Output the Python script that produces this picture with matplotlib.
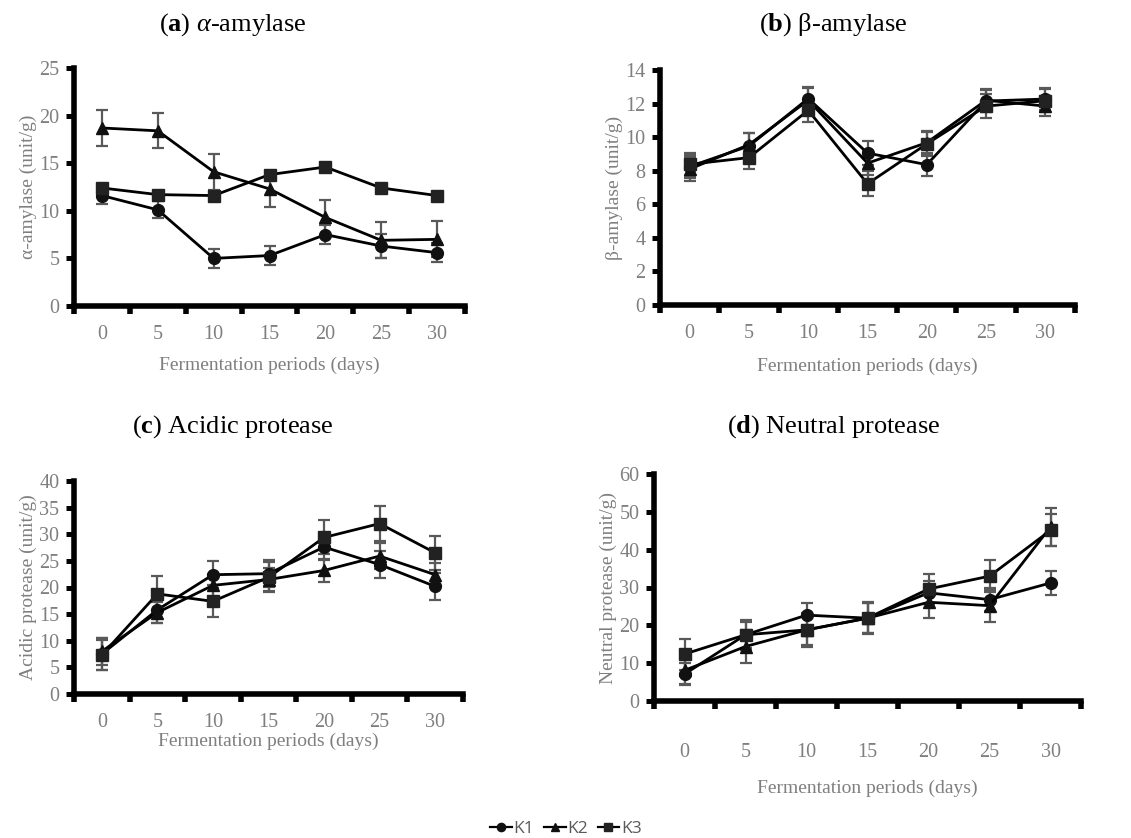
import matplotlib
matplotlib.use("Agg")
import matplotlib.pyplot as plt
import numpy as np

plt.rcParams['font.family'] = ['Liberation Serif', 'DejaVu Serif']
plt.rcParams['mathtext.fontset'] = 'custom'
plt.rcParams['mathtext.rm'] = 'Liberation Serif'
plt.rcParams['mathtext.it'] = 'Liberation Serif:italic'
plt.rcParams['mathtext.bf'] = 'Liberation Serif:bold'

days = ["0", "5", "10", "15", "20", "25", "30"]
series_names = ["K1", "K2", "K3"]

# (a) alpha-amylase
a_k1 = [11.6, 10.1, 5.0, 5.3, 7.5, 6.3, 5.6]
a_k2 = [18.7, 18.4, 14.1, 12.3, 9.3, 6.9, 7.0]
a_k3 = [12.4, 11.7, 11.6, 13.8, 14.6, 12.4, 11.6]
a_e1 = [0.9, 0.9, 1.0, 1.0, 1.0, 1.3, 1.0]
a_e2 = [1.9, 1.85, 1.9, 1.85, 1.8, 1.9, 1.9]
a_e3 = [0.3, 0.3, 0.3, 0.3, 0.3, 0.3, 0.3]

# (b) beta-amylase
b_k1 = [8.25, 9.47, 12.3, 9.05, 8.36, 12.15, 12.27]
b_k2 = [8.1, 9.55, 12.2, 8.45, 9.67, 12.2, 11.85]
b_k3 = [8.38, 8.78, 11.6, 7.22, 9.6, 11.85, 12.17]
b_e1 = [0.7, 0.75, 0.66, 0.7, 0.7, 0.65, 0.65]
b_e2 = [0.7, 0.7, 0.7, 0.7, 0.7, 0.65, 0.6]
b_e3 = [0.7, 0.7, 0.7, 0.75, 0.7, 0.7, 0.7]

# (c) acidic protease
c_k1 = [7.5, 15.8, 22.4, 22.6, 27.6, 24.3, 20.2]
c_k2 = [8.0, 15.3, 20.4, 21.5, 23.2, 25.9, 22.4]
c_k3 = [7.3, 18.8, 17.4, 21.9, 29.4, 32.0, 26.5]
c_e1 = [3.0, 2.5, 2.5, 2.5, 2.5, 2.5, 2.5]
c_e2 = [2.5, 2.0, 2.2, 2.2, 2.2, 2.5, 2.2]
c_e3 = [2.8, 3.3, 3.0, 2.8, 3.2, 3.3, 3.2]

# (d) neutral protease
d_k1 = [7.1, 17.5, 22.7, 21.9, 28.6, 26.8, 31.2]
d_k2 = [8.1, 14.4, 18.8, 21.9, 26.1, 25.2, 46.0]
d_k3 = [12.4, 17.5, 18.8, 21.9, 29.6, 33.0, 45.1]
d_e1 = [2.9, 3.5, 3.2, 4.0, 3.0, 3.1, 3.1]
d_e2 = [3.5, 4.4, 4.0, 4.0, 4.2, 4.2, 5.0]
d_e3 = [4.1, 3.9, 4.5, 4.3, 4.0, 4.3, 4.2]

W, H = 1131, 838
fig = plt.figure(figsize=(W / 100, H / 100), dpi=100)

def box(l, r, t, b):
    return [l / W, 1 - b / H, (r - l) / W, (b - t) / H]

panels = [
    dict(rect=box(74, 465, 68, 306), data=(a_k1, a_k2, a_k3), err=(a_e1, a_e2, a_e3),
         ymax=25, step=5, ylabel="α-amylase (unit/g)", xpad=14, xlabelpad=9,
         title=r"($\mathbf{a}$) $\alpha$-amylase", tx=233, ty=25),
    dict(rect=box(660, 1075, 70, 305), data=(b_k1, b_k2, b_k3), err=(b_e1, b_e2, b_e3),
         ymax=14, step=2, ylabel="β-amylase (unit/g)", xpad=14, xlabelpad=10,
         title=r"($\mathbf{b}$) β-amylase", tx=833, ty=25),
    dict(rect=box(74, 463, 481, 694), data=(c_k1, c_k2, c_k3), err=(c_e1, c_e2, c_e3),
         ymax=40, step=5, ylabel="Acidic protease (unit/g)", xpad=13.5, xlabelpad=0.5,
         title=r"($\mathbf{c}$) Acidic protease", tx=233, ty=427),
    dict(rect=box(654, 1081, 474, 701), data=(d_k1, d_k2, d_k3), err=(d_e1, d_e2, d_e3),
         ymax=60, step=10, ylabel="Neutral protease (unit/g)", xpad=30.5, xlabelpad=12.5,
         title=r"($\mathbf{d}$) Neutral protease", tx=834, ty=427),
]

markers = ["o", "^", "s"]
mcolors = ["#111111", "#111111", "#222222"]
msizes = [8.5, 8, 8.5]
gray = "#7f7f7f"
x = np.arange(len(days))
handles = None

for p in panels:
    ax = fig.add_axes(p["rect"])
    hs = []
    for i, (vals, errs) in enumerate(zip(p["data"], p["err"])):
        ax.errorbar(x, vals, yerr=errs, fmt="none", ecolor="#595959", elinewidth=1.6,
                    capsize=4.5, capthick=1.6, zorder=2)
        h, = ax.plot(x, vals, color="black", lw=2.0, marker=markers[i], ms=msizes[i],
                     mfc=mcolors[i], mec=mcolors[i], zorder=3, label=series_names[i])
        hs.append(h)
    handles = hs
    ax.set_xlim(-0.5, len(days) - 0.5)
    ax.set_ylim(0, p["ymax"])
    ax.set_yticks(np.arange(0, p["ymax"] + 0.01, p["step"]))
    ax.set_xticks(x)
    ax.set_xticklabels(days)
    ax.set_xticks(np.arange(-0.5, len(days)), minor=True)
    for s in ["top", "right"]:
        ax.spines[s].set_visible(False)
    for s in ["left", "bottom"]:
        ax.spines[s].set_linewidth(4.0)
        ax.spines[s].set_color("black")
        ax.spines[s].set_capstyle("projecting")
    ax.tick_params(axis="x", which="major", length=0, pad=p["xpad"], labelsize=14.5, labelcolor=gray)
    ax.tick_params(axis="x", which="minor", length=5.5, width=4.0, direction="out", color="black")
    ax.tick_params(axis="y", length=5.5, width=3.6, direction="out", pad=5, labelsize=14.5,
                   labelcolor=gray, color="black")
    ax.set_xlabel("Fermentation periods (days)", fontsize=14, color=gray, labelpad=p["xlabelpad"])
    ax.set_ylabel(p["ylabel"], fontsize=14, color=gray, labelpad=1.5)
    ax.patch.set_alpha(0)
    fig.text(p["tx"] / W, 1 - p["ty"] / H, p["title"], fontsize=19, color="black",
             ha="center", va="center")

leg = fig.legend(handles=handles, labels=series_names, loc="center", ncol=3,
                 bbox_to_anchor=(566 / W, 1 - 829 / H), frameon=False,
                 prop={"family": "Open Sans", "size": 12.5}, handlelength=1.25,
                 handletextpad=0.1, columnspacing=0.55, markerscale=0.7)
for t in leg.get_texts():
    t.set_color("#595959")
for lh in leg.legend_handles:
    lh.set_linewidth(1.6)

fig.savefig("out.png", dpi=100)
